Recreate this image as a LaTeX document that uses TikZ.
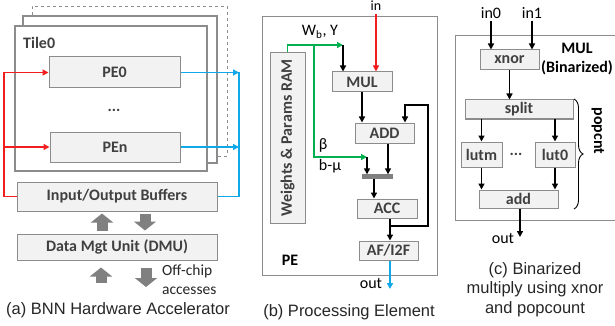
\documentclass[tikz,border=0pt]{standalone}
\usepackage{fontspec}
\setmainfont{Liberation Sans}
\newfontfamily\carl{Carlito}
\usetikzlibrary{arrows.meta,decorations.pathreplacing}
\definecolor{boxfill}{HTML}{F2F2F2}
\definecolor{boxdraw}{HTML}{8C8C8C}
\definecolor{tiledraw}{HTML}{8C8C8C}
\definecolor{txt}{HTML}{404040}
\definecolor{capt}{HTML}{262626}
\definecolor{myred}{HTML}{F01E1E}
\definecolor{myblue}{HTML}{10A8E8}
\definecolor{mygreen}{HTML}{00B050}
\definecolor{fatgray}{HTML}{808080}
\newcommand\lblfont{\carl\bfseries\fontsize{16}{19}\selectfont}
\newcommand\regfont{\carl\fontsize{16}{19}\selectfont}
\newcommand\capfont{\fontsize{16.5}{19.5}\selectfont}
\begin{document}
\begin{tikzpicture}[x=1pt,y=-1pt,
  box/.style={draw=boxdraw, line width=1pt, fill=boxfill, inner sep=0pt, font=\lblfont, text=txt},
  tilebox/.style={draw=tiledraw, line width=1.2pt, fill=white, inner sep=0pt},
  framebox/.style={draw=boxdraw, line width=0.6pt, inner sep=0pt},
  tiptri/.style={-{Triangle[length=6pt,width=6pt]}},
  blk/.style={line width=1.4pt, black, tiptri},
  redl/.style={line width=1.4pt, myred},
  bluel/.style={line width=1.4pt, myblue},
  greenl/.style={line width=1.4pt, mygreen},
  fatarr/.style={line width=11pt, fatgray, -{Triangle[length=9pt,width=22pt]}},
  lbl/.style={font=\lblfont, text=txt, inner sep=0pt},
  reg/.style={font=\regfont, text=black, inner sep=0pt},
  captxt/.style={font=\capfont, text=capt, inner sep=0pt, align=center}
]
\useasboundingbox (0,0) rectangle (615,326);

% ---------------- (a) ----------------
\node[tilebox, dashed, line width=0.8pt, minimum width=195, minimum height=150] (tile2) at (129.5,81) {};
\node[tilebox, minimum width=194, minimum height=147] (tile1) at (120,89.5) {};
\node[tilebox, minimum width=192, minimum height=145] (tile0) at (111,98.5) {};
\node[lbl, anchor=west] (tlab) at (23,43) {Tile0};
\node[box, minimum width=131, minimum height=31] (pe0) at (114.5,72.5) {PE0};
\node[box, minimum width=130, minimum height=30] (pen) at (115,147) {PEn};
\node[lbl] (dotsa) at (114,110) {...};
\node[box, minimum width=200, minimum height=29] (buf) at (117,196.5) {Input/Output Buffers};
\node[box, minimum width=200, minimum height=26] (dmu) at (117,247) {Data Mgt Unit (DMU)};

\coordinate (rx) at (4,196.5);
\draw[redl] (buf.west) -- (rx);
\draw[redl, tiptri] (rx) |- (pe0.west);
\draw[redl, tiptri] (rx |- pen.west) -- (pen.west);

\coordinate (bx) at (239,196.5);
\draw[bluel] (buf.east) -- (bx) -- (bx |- pe0.east);
\draw[bluel, tiptri] (pe0.east) -- (pe0.east -| bx);
\draw[bluel, tiptri] (pen.east) -- (pen.east -| bx);

\draw[fatarr, shorten <=3pt, shorten >=2pt] ([xshift=-15]dmu.north) -- ([xshift=-15]buf.south);
\draw[fatarr, shorten <=2pt, shorten >=3pt] ([xshift=28]buf.south) -- ([xshift=28]dmu.north);
\coordinate (offu) at (101,283);
\coordinate (offd) at (146,287);
\draw[fatarr, shorten >=7pt] (offu) -- ([xshift=-16]dmu.south);
\draw[fatarr, shorten <=7pt] ([xshift=29]dmu.south) -- (offd);
\node[reg, anchor=west, align=left, text=capt, font=\carl\fontsize{15.5}{18.5}\selectfont] (offc) at (162,279.5) {Off-chip\\accesses};
\node[captxt] (capa) at (118,310) {(a) BNN Hardware Accelerator};

% ---------------- (b) ----------------
\node[framebox, minimum width=175, minimum height=259] (pebox) at (349.5,145.5) {};
\node[box, minimum width=35, minimum height=170] (ram) at (287.5,138) {\rotatebox{90}{Weights \& Params RAM}};
\node[box, minimum width=60, minimum height=20] (mul) at (362,82) {MUL};
\node[box, minimum width=59, minimum height=20] (add) at (384.5,133) {ADD};
\node[draw=fatgray, fill=fatgray, inner sep=0pt, minimum width=30, minimum height=4] (bar) at (377,176.5) {};
\node[box, minimum width=60, minimum height=19] (acc) at (387,208.5) {ACC};
\node[box, minimum width=59, minimum height=19] (af) at (388.5,250.5) {AF/I2F};
\node[reg, anchor=base, font=\carl\fontsize{14}{16}\selectfont] (inl) at (376,11) {in};
\node[lbl, text=black] (pel) at (290,260) {PE};
\node[reg] (wl) at (320,32) {W\textsubscript{b}, Y};
\node[reg] (betal) at (323,145) {β};
\node[reg] (bml) at (330,166) {b-μ};

\coordinate (inx) at (376,14);
\draw[redl, tiptri] (inx) -- (inx |- mul.north);
\coordinate (gw) at (343,45);
\coordinate (gs) at (314,45);
\coordinate (gb) at (367,157);
\draw[greenl, tiptri] (ram.north) |- (gw);
\draw[greenl, tiptri] (gs) |- (gb);
\draw[blk] (gw) -- (gw |- mul.north);
\draw[blk] (gb) -- (gb |- bar.north);
\draw[blk] (mul.south) -- (mul.south |- add.north);
\draw[blk] ([xshift=3.5]add.south) -- ([xshift=3.5]add.south |- bar.north);
\draw[blk] ([xshift=-3]bar.south) -- ([xshift=-3]bar.south |- acc.north);
\draw[blk] ([xshift=3]acc.south) -- ([xshift=3]acc.south |- af.north);
\coordinate (fbj) at (390,226);
\coordinate (fbr) at (428,105);
\draw[blk] (fbj) -| (fbr) -| ([xshift=20.5]add.north);
\coordinate (outb) at (390,289);
\draw[bluel, tiptri] ([xshift=1.5]af.south) -- (outb);
\node[reg] (outlb) at (371,283) {out};
\node[captxt] (capb) at (349,312) {(b) Processing Element};

% ---------------- (c) ----------------
\node[framebox, minimum width=165, minimum height=185] (mulbox) at (537.5,127.5) {};
\node[reg] (in0) at (491,13) {in0};
\node[reg] (in1) at (532,13) {in1};
\node[box, minimum width=59, minimum height=20] (xnor) at (509.5,60) {xnor};
\node[box, minimum width=108, minimum height=19] (split) at (519,109.5) {split};
\node[box, minimum width=41, minimum height=25] (lutm) at (481.5,154.5) {lutm};
\node[box, minimum width=40, minimum height=25] (lut0) at (555,154.5) {lut0};
\node[box, minimum width=79, minimum height=18] (addc) at (518.5,199) {add};
\node[lbl] (dotsc) at (516,154) {...};
\node[lbl, text=black, align=center] (mull) at (577,59.5) {MUL\\(Binarized)};
\node[lbl, text=black, rotate=-90] (popl) at (598,131) {popcnt};

\draw[blk, shorten <=2pt] (in0.south) -- (in0.south |- xnor.north);
\draw[blk, shorten <=2pt] (in1.south) -- (in1.south |- xnor.north);
\draw[blk] (xnor.south) -- (xnor.south |- split.north);
\draw[blk] (lutm.north |- split.south) -- (lutm.north);
\draw[blk] (lut0.north |- split.south) -- (lut0.north);
\draw[blk] (lutm.south) -- (lutm.south |- addc.north);
\draw[blk] (lut0.south) -- (lut0.south |- addc.north);
\coordinate (coutc) at (520,237);
\draw[blk] ([xshift=1.5]addc.south) -- (coutc);
\node[reg, text=black] (outlc) at (503,238) {out};
\coordinate (brt) at (574,99);
\coordinate (brb) at (574,209);
\draw[line width=0.9pt, black, decorate, decoration={brace, amplitude=9pt}] (brt) -- (brb);
\node[captxt] (capc) at (535,289.5) {(c) Binarized\\multiply using xnor\\and popcount};
\end{tikzpicture}
\end{document}
